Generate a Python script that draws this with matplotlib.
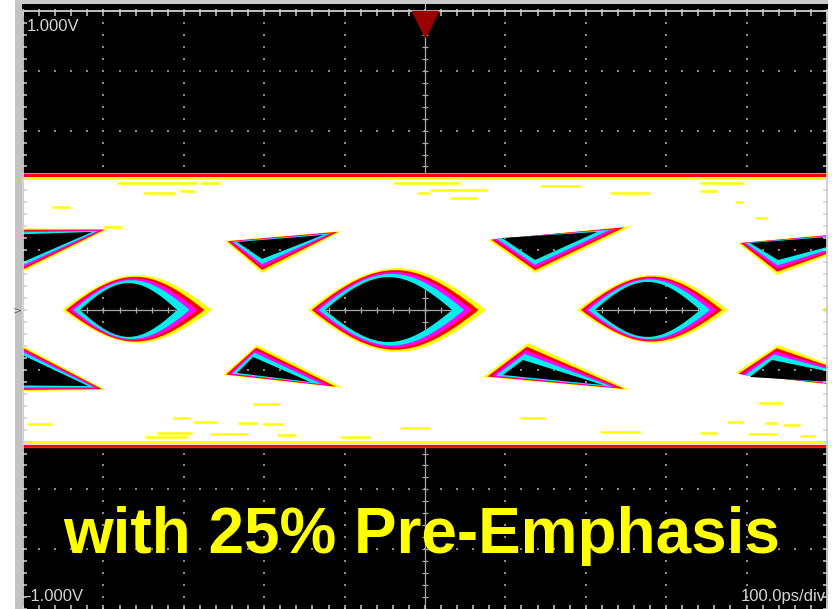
import numpy as np
import matplotlib.pyplot as plt
from matplotlib.patches import PathPatch, Rectangle
from matplotlib.path import Path

# scope settings
t_div = 100.0          # ps per division
v_div = 0.2            # V per division
top_label = "1.000V"
bot_label = "-1.000V"
tb_label = "100.0ps/div"
title = "with 25% Pre-Emphasis"
trigger_t = 0.0

# outer rails of the eye (V)
rail_hi = 0.458
rail_lo = -0.461

# eye openings: tip times (ps) and peak heights (V); inner = black, outer = yellow edge
eye_l_in = [-429.1, -124.4, 211.4, 516.0]
eye_r_in = [-308.5, 33.6, 342.0, 665.0]
eye_top_in = [0.090, 0.110, 0.094, 0.100]
eye_bot_in = [-0.090, -0.107, -0.090, -0.100]
eye_l_out = [-451.5, -145.5, 189.1, 493.8]
eye_r_out = [-264.9, 75.9, 376.9, 703.0]
eye_top_out = [0.117, 0.140, 0.117, 0.130]
eye_bot_out = [-0.110, -0.140, -0.110, -0.130]

# triangular holes near the de-emphasised levels (3 corners each)
tri_t_in = [[-565.9, -414.2, -534.8], [-233.8, -126.9, -202.7], [95.8, 213.9, 136.8], [404.2, 565.9, 439.1],
            [-553.5, -565.9, -419.2], [-213.9, -233.8, -143.0], [121.9, 97.0, 221.4], [431.6, 404.2, 590.8]]
tri_v_in = [[0.2475, 0.2609, 0.1204], [0.2274, 0.2508, 0.1706], [0.2408, 0.2609, 0.1672], [0.2241, 0.2575, 0.1672],
            [-0.0836, -0.2508, -0.2542], [-0.1572, -0.2107, -0.2408], [-0.1672, -0.2174, -0.2508], [-0.1672, -0.2241, -0.2542]]
tri_t_out = [[-578.4, -394.3, -541.1], [-248.8, -103.2, -202.7], [78.4, 257.5, 136.8], [389.3, 590.8, 437.8],
             [-565.9, -578.4, -396.8], [-209.0, -251.2, -102.0], [128.1, 72.1, 255.0], [439.1, 385.6, 603.2]]
tri_v_out = [[0.2742, 0.2709, 0.0736], [0.2308, 0.2642, 0.1237], [0.2341, 0.2809, 0.1237], [0.2241, 0.2742, 0.1171],
             [-0.0268, -0.2742, -0.2676], [-0.1171, -0.2174, -0.2609], [-0.1104, -0.2241, -0.2676], [-0.1171, -0.2107, -0.2843]]

# sparse hits inside the band: start, end (ps), level (V)
dash_t0 = [-463.9, -383.1, -350.8, -304.7, -400.5, -279.9, -39.8, -10.0, 6.2, 31.1, 342.0, 342.0, 385.6, 410.5,
           414.2, 375.6, 422.9, 445.3, 401.7, 342.0, 466.4, -495.0, -313.4, -288.6, -232.6, -213.9, -201.5,
           -333.3, -348.3, -267.4, -184.1, -105.7, -31.1, 118.2, 217.7, 143.0, 230.1]
dash_t1 = [-441.6, -283.6, -311.0, -286.1, -376.9, -255.0, 43.5, 6.2, 77.1, 64.7, 395.5, 363.2, 395.5, 425.4,
           444.0, 395.5, 437.8, 466.4, 437.8, 363.2, 485.1, -463.9, -292.3, -258.7, -209.0, -180.3, -176.6,
           -289.8, -296.0, -220.2, -161.7, -68.4, 6.2, 149.3, 267.4, 192.8, 279.9]
dash_v = [0.344, 0.425, 0.391, 0.398, 0.278, 0.425, 0.425, 0.391, 0.401, 0.375, 0.425, 0.398, 0.361, 0.308,
          -0.311, -0.375, -0.378, -0.385, -0.415, -0.411, -0.421, -0.381, -0.361, -0.375, -0.378, -0.314, -0.381,
          -0.411, -0.425, -0.415, -0.418, -0.425, -0.395, -0.361, -0.408, 0.415, 0.391]

# colour grades from outer edge to empty screen
layer_frac = [1.0, 0.78, 0.58, 0.36, 0.0]
layer_col = ['#ffff00', '#ff0000', '#ff00ff', '#00eeee', 'black']

W, H = 832, 609
fig = plt.figure(figsize=(W / 100, H / 100), dpi=100)
fig.patch.set_facecolor('white')
fig.add_artist(Rectangle((15 / W, 0), 7 / W, 1, transform=fig.transFigure, color='#c2c2c2', lw=0))
fig.add_artist(Rectangle((15 / W, 1 - 4 / H), 813 / W, 4 / H, transform=fig.transFigure, color='#cacaca', lw=0))
fig.text(13 / W, 1 - 310 / H, '>', color='#707070', fontsize=8, va='center', ha='left')

ax = fig.add_axes([22 / W, 0, 806 / W, 605 / H])
ax.set_facecolor('black')
ax.set_xlim(-501.3, 501.3)
ax.set_ylim(-1.0, 1.0234)
ax.set_xticks([])
ax.set_yticks([])
for s in ax.spines.values():
    s.set_visible(False)

minor_t = np.arange(-500, 500.1, t_div / 5)
minor_v = np.arange(-1.0, 1.0001, v_div / 5)
major_t = np.array([t for t in np.arange(-400, 401, t_div) if t != 0])
major_v = np.array([v for v in np.arange(-0.8, 0.81, v_div) if abs(v) > 1e-9])


def graticule(z, clip=None):
    arts = []
    a, b = np.meshgrid(major_t, minor_v)
    c, d = np.meshgrid(minor_t, major_v)
    arts.append(ax.scatter(np.r_[a.ravel(), c.ravel()], np.r_[b.ravel(), d.ravel()],
                           s=2.5, marker='s', c='#8c8c8c', lw=0, zorder=z))
    arts.append(ax.axhline(0, color='#a8a8a8', lw=0.9, zorder=z))
    arts.append(ax.axvline(0, color='#a8a8a8', lw=0.9, zorder=z))
    arts.append(ax.vlines(minor_t, -0.011, 0.011, color='#a8a8a8', lw=0.9, zorder=z))
    arts.append(ax.hlines(minor_v, -3.8, 3.8, color='#a8a8a8', lw=0.9, zorder=z))
    if clip is not None:
        for art in arts:
            art.set_clip_path(clip)
    return arts


graticule(1)
# frame with ticks
fc = '#cfcfcf'
ax.hlines(1.0, -500, 500, color=fc, lw=1.3, zorder=9)
ax.vlines([-500, 500], -1.0, 1.0, color=fc, lw=1.3, zorder=9)
ax.vlines(minor_t, 0.983, 1.006, color=fc, lw=1.1, zorder=9)
ax.vlines(minor_t, -1.0, -0.985, color=fc, lw=1.1, zorder=9)
ax.hlines(minor_v, -500, -494.5, color=fc, lw=1.1, zorder=9)
ax.hlines(minor_v, 494.5, 500, color=fc, lw=1.1, zorder=9)

# waveform band
ax.axhspan(rail_lo, rail_hi, color='white', lw=0, zorder=2)
ax.axhline(rail_hi - 0.005, color='#ff0000', lw=2.2, zorder=2.5)
ax.axhline(rail_hi - 0.001, color='#ff00ff', lw=0.8, alpha=0.6, zorder=2.6)
ax.axhline(rail_hi - 0.015, color='#ffff00', lw=2.0, zorder=2.5)
ax.axhline(rail_lo + 0.006, color='#ff0000', lw=2.4, zorder=2.5)
ax.axhline(rail_lo + 0.002, color='#ff00ff', lw=0.8, alpha=0.6, zorder=2.6)
ax.axhline(rail_lo + 0.018, color='#ffff00', lw=2.0, zorder=2.5)
ax.hlines(dash_v, dash_t0, dash_t1, colors='#ffff00', lw=1.8, zorder=2.6)


def lens(tl, tr, vt, vb, c=0.4):
    w = tr - tl
    k = 4 / 3
    return np.array([[tl, 0], [tl + c * w, k * vt], [tr - c * w, k * vt], [tr, 0],
                     [tr - c * w, k * vb], [tl + c * w, k * vb], [tl, 0], [tl, 0]])


lens_codes = [Path.MOVETO] + [Path.CURVE4] * 6 + [Path.CLOSEPOLY]
tri_codes = [Path.MOVETO, Path.LINETO, Path.LINETO, Path.CLOSEPOLY]

holes = []
for i in range(len(eye_l_in)):
    inner = lens(eye_l_in[i], eye_r_in[i], eye_top_in[i], eye_bot_in[i])
    outer = lens(eye_l_out[i], eye_r_out[i], eye_top_out[i], eye_bot_out[i])
    holes.append((inner, outer, lens_codes))
for i in range(len(tri_t_in)):
    inner = np.c_[tri_t_in[i] + [tri_t_in[i][0]], tri_v_in[i] + [tri_v_in[i][0]]]
    outer = np.c_[tri_t_out[i] + [tri_t_out[i][0]], tri_v_out[i] + [tri_v_out[i][0]]]
    holes.append((inner, outer, tri_codes))

for inner, outer, codes in holes:
    for j, (f, col) in enumerate(zip(layer_frac, layer_col)):
        p = PathPatch(Path(inner + f * (outer - inner), codes), fc=col, ec='none', lw=0, zorder=3 + 0.1 * j)
        ax.add_patch(p)
    graticule(4, clip=p)

# trigger marker and labels
ax.plot([trigger_t], [0.958], marker='v', ms=18.5, color='#9c0000', mec='#9c0000', zorder=10)
lab = dict(color='#d4d4d4', fontsize=12, family='Liberation Sans', zorder=10)
ax.text(-495.0, 0.933, top_label, ha='left', va='baseline', **lab)
ax.text(-497.5, -0.973, bot_label, ha='left', va='baseline', **lab)
ax.text(498.8, -0.973, tb_label, ha='right', va='baseline', **lab)
ax.text(-4.4, -0.8127, title, ha='center', va='baseline', color='#ffff00', fontsize=46,
        fontweight='bold', family='Liberation Sans', zorder=10)

fig.savefig('out.png', dpi=100)
